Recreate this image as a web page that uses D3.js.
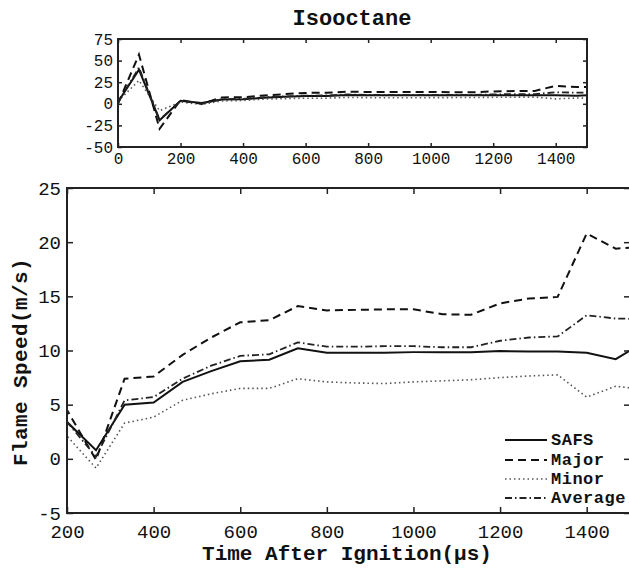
<!DOCTYPE html>
<html>
<head>
<meta charset="utf-8">
<script src="https://cdn.jsdelivr.net/npm/d3@7"></script>
<style>
  body { margin: 0; background: #fff; }
  text { font-family: "Courier New", Courier, "Liberation Mono", monospace; fill: #111; }
</style>
</head>
<body>
<div id="chart"></div>
<script>
// time after ignition (microseconds)
var times = [0, 67, 133, 200, 267, 333, 400, 467, 533, 600, 667, 733, 800, 867, 933,
             1000, 1067, 1133, 1200, 1267, 1333, 1400, 1467, 1533];
var safs    = [2, 39.5, -19, 3.4, 0.8, 5.0, 5.2, 7.1, 8.1, 9.0, 9.15, 10.2, 9.8, 9.8, 9.8,
               9.85, 9.85, 9.85, 9.95, 9.9, 9.9, 9.8, 9.2, 10.8];
var major   = [0, 57, -29, 4.5, -0.1, 7.4, 7.6, 9.6, 11.2, 12.6, 12.8, 14.1, 13.7, 13.75, 13.8,
               13.8, 13.35, 13.3, 14.35, 14.8, 14.95, 20.8, 19.4, 19.6];
var minor   = [3, 27, -8, 2.1, -0.85, 3.3, 3.85, 5.4, 6.0, 6.5, 6.5, 7.4, 7.1, 7.0, 6.95,
               7.1, 7.2, 7.3, 7.5, 7.65, 7.75, 5.7, 6.7, 6.4];
var average = [1.5, 42, -18.5, 3.4, 0.2, 5.4, 5.7, 7.4, 8.6, 9.5, 9.65, 10.75, 10.35, 10.35, 10.4,
               10.4, 10.3, 10.3, 10.9, 11.2, 11.3, 13.25, 12.95, 12.9];

var seriesNames = ["SAFS", "Major", "Minor", "Average"];
var seriesData = [safs, major, minor, average];
var dashes = [null, "8,5", "1.5,3", "7,3,1.5,3"];
var widths = [2, 2, 1.6, 1.8];
var colors = ["#111", "#111", "#555", "#222"];

var topXTicks = [0, 200, 400, 600, 800, 1000, 1200, 1400];
var topYTicks = [-50, -25, 0, 25, 50, 75];
var mainXTicks = [200, 400, 600, 800, 1000, 1200, 1400];
var mainYTicks = [-5, 0, 5, 10, 15, 20, 25];

var fontStack = '"Courier New", Courier, "Liberation Mono", monospace';

var svg = d3.select("#chart").append("svg")
    .attr("width", 629)
    .attr("height", 570);

function drawPanel(opt) {
    var x = d3.scaleLinear().domain(opt.xDomain).range([opt.left, opt.right]);
    var y = d3.scaleLinear().domain(opt.yDomain).range([opt.bottom, opt.top]);
    var g = svg.append("g");

    g.append("clipPath").attr("id", opt.id)
      .append("rect")
        .attr("x", opt.left).attr("y", opt.top)
        .attr("width", opt.right - opt.left).attr("height", opt.bottom - opt.top);

    var line = d3.line()
        .x(function(d, i) { return x(times[i]); })
        .y(function(d) { return y(d); });

    var lines = g.append("g").attr("clip-path", "url(#" + opt.id + ")");
    seriesData.forEach(function(s, k) {
        lines.append("path")
            .attr("d", line(s))
            .attr("fill", "none")
            .attr("stroke", colors[k])
            .attr("stroke-width", widths[k])
            .attr("stroke-dasharray", dashes[k]);
    });

    // axes, ticks pointing inward
    var ax = g.append("g").attr("transform", "translate(0," + opt.bottom + ")")
        .call(d3.axisBottom(x).tickValues(opt.xTicks).tickSizeInner(-opt.tick).tickSizeOuter(0).tickPadding(opt.padX));
    var ay = g.append("g").attr("transform", "translate(" + opt.left + ",0)")
        .call(d3.axisLeft(y).tickValues(opt.yTicks).tickSizeInner(-opt.tick).tickSizeOuter(0).tickPadding(opt.padY));
    var axt = g.append("g").attr("transform", "translate(0," + opt.top + ")")
        .call(d3.axisTop(x).tickValues(opt.xTicks).tickSizeInner(-opt.tick).tickSizeOuter(0).tickFormat(""));
    var ayr = g.append("g").attr("transform", "translate(" + opt.right + ",0)")
        .call(d3.axisRight(y).tickValues(opt.yTicks).tickSizeInner(-opt.tick).tickSizeOuter(0).tickFormat(""));

    [ax, ay, axt, ayr].forEach(function(a) {
        a.select(".domain").remove();
        a.selectAll("line").attr("stroke", "#222").attr("stroke-width", 1.5);
        a.selectAll("text")
            .style("font-family", fontStack)
            .style("font-size", opt.fontSize + "px")
            .attr("fill", "#111");
    });
    ax.selectAll("text").text(function(d) { return d; });
    ay.selectAll("text").text(function(d) { return d; });

    g.append("rect")
        .attr("x", opt.left).attr("y", opt.top)
        .attr("width", opt.right - opt.left).attr("height", opt.bottom - opt.top)
        .attr("fill", "none").attr("stroke", "#222").attr("stroke-width", 2);

    return { x: x, y: y, g: g };
}

// small panel
drawPanel({
    id: "clipTop", left: 118, right: 587, top: 39, bottom: 147,
    xDomain: [0, 1500], yDomain: [-50, 75],
    xTicks: topXTicks, yTicks: topYTicks,
    tick: 4, padX: 6, padY: 5, fontSize: 16
});

svg.append("text")
    .attr("x", 352).attr("y", 25)
    .attr("text-anchor", "middle")
    .style("font-size", "22px").style("font-weight", "bold")
    .text("Isooctane");

// main panel
var main = drawPanel({
    id: "clipMain", left: 67, right: 630, top: 188, bottom: 513,
    xDomain: [200, 1500], yDomain: [-5, 25],
    xTicks: mainXTicks, yTicks: mainYTicks,
    tick: 6, padX: 12, padY: 6, fontSize: 19
});

svg.append("text")
    .attr("x", 347).attr("y", 560)
    .attr("text-anchor", "middle")
    .style("font-size", "21px").style("font-weight", "bold")
    .text("Time After Ignition(µs)");

svg.append("text")
    .attr("transform", "translate(27,362) rotate(-90)")
    .attr("text-anchor", "middle")
    .style("font-size", "21px").style("font-weight", "bold")
    .style("letter-spacing", "0.4px")
    .text("Flame Speed(m/s)");

// legend
var legend = svg.append("g");
seriesNames.forEach(function(name, k) {
    var ly = [440, 460, 479, 498][k];
    legend.append("line")
        .attr("x1", 505).attr("x2", 547)
        .attr("y1", ly).attr("y2", ly)
        .attr("stroke", colors[k])
        .attr("stroke-width", widths[k])
        .attr("stroke-dasharray", dashes[k]);
    legend.append("text")
        .attr("x", 551).attr("y", ly + 5)
        .style("font-size", "17px").style("font-weight", "bold")
        .style("letter-spacing", "0.5px")
        .text(name);
});
</script>
</body>
</html>
